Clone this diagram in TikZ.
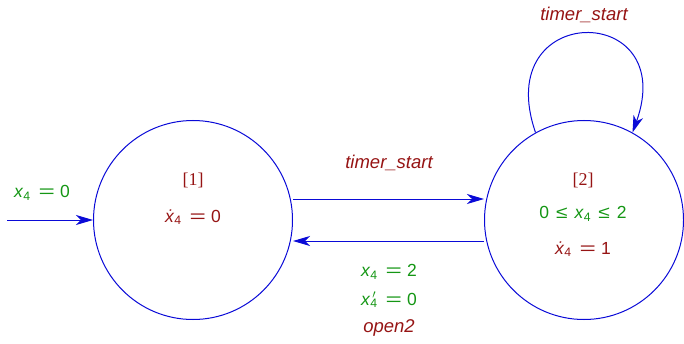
\documentclass[tikz,border=0pt]{standalone}
\usepackage{fontspec}
\setmainfont{Liberation Sans}
\newfontfamily\locfont{Liberation Serif}
\usetikzlibrary{arrows.meta,positioning}
\definecolor{edgeblue}{RGB}{10,10,215}
\definecolor{actred}{RGB}{150,20,20}
\definecolor{guardgreen}{RGB}{20,150,20}
\newcommand{\xf}{\textit{x}\textsubscript{4}}
\newcommand{\xdot}{\textit{\.x}\textsubscript{4}}
\newcommand{\xprime}{\textit{x}\rlap{\textsuperscript{\,$\prime$}}\textsubscript{4}}
\newcommand{\eqs}{\hspace{0.45em}\scalebox{1.6}[1]{=}\hspace{0.3em}}
\newcommand{\les}{\hspace{0.4em}\scalebox{1.2}[1]{≤}\hspace{0.4em}}
\tikzset{
  loc/.style={circle, draw=edgeblue, line width=1pt, minimum size=199pt, inner sep=0pt},
  trans/.style={edgeblue, line width=1pt, -{Stealth[length=17pt,width=10pt,inset=5pt]}},
  act/.style={text=actred, font=\fontsize{18.5}{21}\selectfont\itshape},
  guard/.style={text=guardgreen},
  locname/.style={text=actred, font=\fontsize{18}{20}\locfont}
}
\begin{document}
\begin{tikzpicture}[x=1pt, y=1pt, font=\fontsize{17.5}{20}\selectfont]
  \useasboundingbox (0,0) rectangle (684,343);
  % locations
  \node[loc] (s1) at (193,123) {};
  \node[loc] (s2) at (584,123) {};
  \node[locname] (n1) at (193,163) {[1]};
  \node[text=actred] (f1) at (193,126) {\xdot\eqs0};
  \node[locname] (n2) at (583,163) {[2]};
  \node[guard] (inv2) at (583,129) {0\les\xf\les2};
  \node[text=actred] (f2) at (583,94) {\xdot\eqs1};
  % initial edge
  \coordinate (init) at (7,123);
  \draw[trans] (init) -- (s1.west);
  \node[guard] (g0) at (42,150) {\xf\eqs0};
  % edges between locations
  \draw[trans] (s1.east |- 0,144) -- (s2.west |- 0,144);
  \draw[trans] (s2.west |- 0,102) -- (s1.east |- 0,102);
  \node[act] (a12) at (389,180) {timer\_start};
  \node[guard] (g21) at (389,71) {\xf\eqs2};
  \node[guard] (r21) at (389,43) {\xprime\eqs0};
  \node[act] (a21) at (389,15) {open2};
  % self loop
  \draw[trans] (s2.119) .. controls (490,342) and (680,342) .. (s2.61);
  \node[act] (a22) at (584,328) {timer\_start};
\end{tikzpicture}
\end{document}
